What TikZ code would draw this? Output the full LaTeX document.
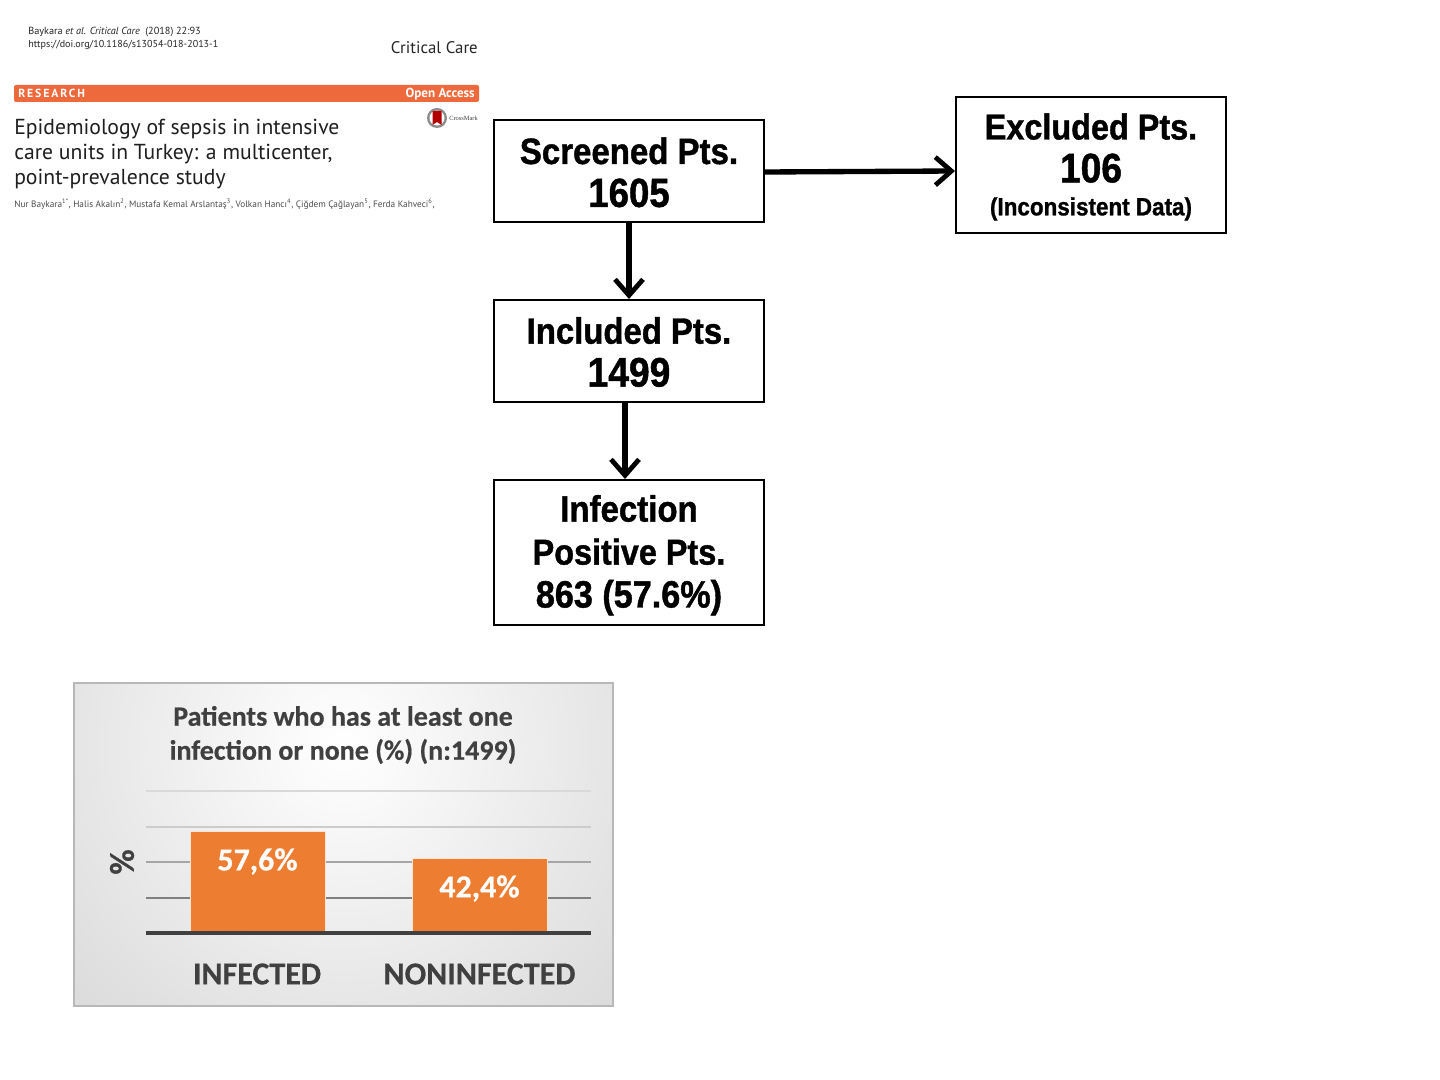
\documentclass[tikz,border=0pt]{standalone}
\usepackage{fontspec}
\usetikzlibrary{arrows.meta,calc}
\setmainfont{PT Sans}
\newfontfamily\flowfont[BoldFeatures={FakeBold=1.1,FakeStretch=0.9}]{Liberation Sans}
\newfontfamily\chartfont[BoldFeatures={FakeBold=0.5}]{Carlito}
\newfontfamily\marklabel{Liberation Serif}
\definecolor{banner}{HTML}{EE693C}
\definecolor{barfill}{HTML}{ED7D31}
\definecolor{charttext}{HTML}{404040}
\newcommand{\flowsize}[1]{\fontsize{#1}{32.2}\selectfont}
\tikzset{
  flowbox/.style={draw=black,line width=1.5pt,fill=white,minimum width=202.5pt,align=center,
    inner sep=0pt,font=\flowfont\bfseries\fontsize{27}{32.2}\selectfont},
  flowarrow/.style={line width=4pt,-{Straight Barb[length=12pt,width=21pt,line width=3.6pt]}},
  gridrule/.style={line width=1.4pt},
  chartbar/.style={fill=barfill,draw=white!80!barfill,line width=0.6pt},
  barlabel/.style={font=\chartfont\bfseries\fontsize{24}{28}\selectfont,text=white,anchor=center},
  catlabel/.style={font=\chartfont\bfseries\fontsize{24}{28}\selectfont,text=charttext,anchor=center},
  chartnote/.style={font=\chartfont\bfseries\fontsize{21}{25.5}\selectfont,text=charttext,align=center,anchor=center},
  paper/.style={anchor=west,text=black!85,inner sep=0pt},
}
\begin{document}
\begin{tikzpicture}[x=0.75pt,y=-0.75pt]
\useasboundingbox (0,0) rectangle (1440,1080);
\fill[white] (0,0) rectangle (1440,1080);

% Article header
\node[paper,font=\fontsize{7.7}{8}\selectfont] (cite) at (28,32) {Baykara \textit{et al. Critical Care}\ \ (2018) 22:93};
\node[paper,font=\fontsize{7.55}{8}\selectfont] (doi) at (28,45) {https://doi.org/10.1186/s13054-018-2013-1};
\node[anchor=east,inner sep=0pt,text=black!85,font=\fontsize{12.6}{15}\selectfont] (journal) at (478,47.5) {Critical Care};
\fill[banner,rounded corners=1.5pt] (14,85) rectangle (479,102);
\node[anchor=west,inner sep=0pt,text=white,font=\bfseries\fontsize{8.8}{10}\selectfont] (research) at (18,93.5) {\addfontfeature{LetterSpace=16}RESEARCH};
\node[anchor=east,inner sep=0pt,text=white,font=\bfseries\fontsize{9.8}{10}\selectfont] (access) at (475,94) {Open Access};
\node[anchor=north west,inner sep=0pt,align=left,text=black!88,font=\fontsize{16.25}{18.75}\selectfont] (title) at (14,119)
  {Epidemiology of sepsis in intensive\\care units in Turkey: a multicenter,\\point-prevalence study};
\node[paper,font=\fontsize{6.95}{8}\selectfont,text=black!70] (authors) at (14,204)
  {Nur Baykara\textsuperscript{1*}, Halis Akalın\textsuperscript{2}, Mustafa Kemal Arslantaş\textsuperscript{3}, Volkan Hancı\textsuperscript{4}, Çiğdem Çağlayan\textsuperscript{5}, Ferda Kahveci\textsuperscript{6},};

% CrossMark badge
\fill[black!45] (437,118) circle (10);
\fill[white] (437,118) circle (7.5);
\fill[red!70!black] (432.5,111) -- (441.5,111) -- (441.5,125) -- (437,122) -- (432.5,125) -- cycle;
\node[anchor=west,inner sep=0pt,text=black!75,font=\marklabel\fontsize{4.8}{5}\selectfont] (crossmark) at (449,118.5) {CrossMark};

% Flow of patients
\node[flowbox,minimum height=76.5pt] (screened) at (629,171) {\rule{0pt}{22pt}\flowsize{27.5}Screened Pts.\\\flowsize{30.5}1605};
\node[flowbox,minimum height=102pt] (excluded) at (1091,165) {\rule{0pt}{22.5pt}\flowsize{27}Excluded Pts.\\\flowsize{31}106\\[-7.5pt]\flowsize{18.7}(Inconsistent Data)};
\node[flowbox,minimum height=76.5pt] (included) at (629,351) {\rule{0pt}{21.5pt}\flowsize{27.4}Included Pts.\\\flowsize{31}1499};
\node[flowbox,minimum height=108.75pt] (infection) at (629,552.5) {\rule{0pt}{24pt}\flowsize{27.5}Infection\\\flowsize{27}Positive Pts.\\\flowsize{28.5}863 (57.6\%)};
\draw[flowarrow] (screened.east |- 0,172) -- (excluded.west |- 0,171);
\draw[flowarrow] (screened.south) -- (included.north);
\draw[flowarrow] ([xshift=-3pt]included.south) -- ([xshift=-3pt]infection.north);

% Chart panel
\begin{scope}
  \clip (74,683) rectangle (613,1006);
  \shade[inner color=white,outer color=black!21] (343,745) circle (560);
\end{scope}
\draw[black!28,line width=1.5pt] (74,683) rectangle (613,1006);
\node[chartnote] (charttitle) at (343,735) {Patients who has at least one\\infection or none (\%) (n:1499)};
\draw[gridrule,black!15] (146,791) -- (591,791);
\draw[gridrule,black!20] (146,827) -- (591,827);
\draw[gridrule,black!35] (146,862) -- (591,862);
\draw[gridrule,black!50] (146,898) -- (591,898);
\draw[chartbar] (190.5,831.5) rectangle (325,933);
\draw[chartbar] (412.5,858.5) rectangle (547,933);
\draw[charttext,line width=2.6pt] (146,933) -- (591,933);
\node[barlabel] (infpct) at (257.5,861.5) {57,6\%};
\node[barlabel] (nonpct) at (479.5,888.5) {42,4\%};
\node[catlabel] (infcat) at (257,974) {INFECTED};
\node[catlabel] (noncat) at (479.5,974) {NONINFECTED};
\node[catlabel,rotate=90,font=\chartfont\bfseries\fontsize{26}{28}\selectfont] (axisname) at (122,862) {\%};
\end{tikzpicture}
\end{document}
